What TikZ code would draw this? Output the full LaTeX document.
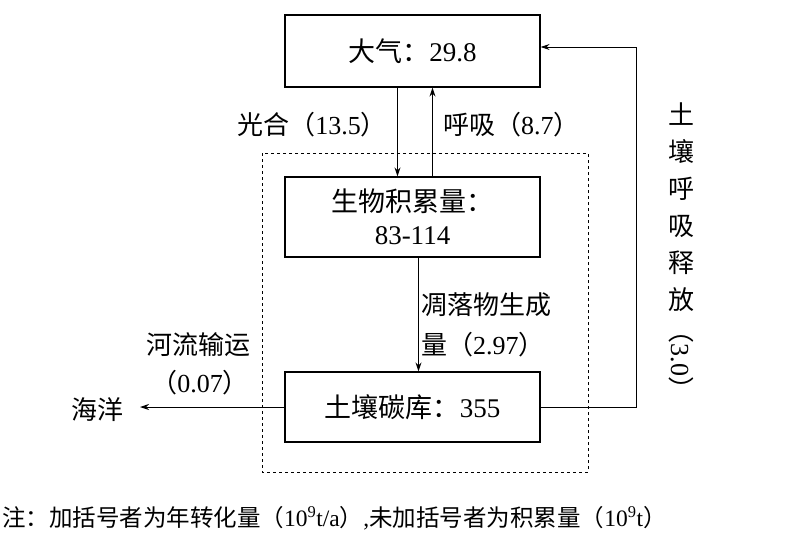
\documentclass[tikz,border=0pt]{standalone}
\usepackage{fontspec}
\setmainfont{Liberation Serif}
\newfontfamily\cjk{Noto Sans CJK SC}
\usetikzlibrary{arrows.meta}
\begin{document}
\begin{tikzpicture}[x=1pt,y=-1pt,
  box/.style={draw,line width=1.2pt,minimum width=255pt,inner sep=0pt,align=center,font=\fontsize{27}{33}\selectfont},
  lbl/.style={font=\fontsize{26}{32}\selectfont,inner sep=0pt,align=center},
  arr/.style={line width=1pt,-{Stealth[length=9pt,width=6pt]}}]
\useasboundingbox (0,0) rectangle (801,539);
\draw[dashed,line width=1pt] (262,153) rectangle (588,472);
\node[box,minimum height=72pt] (air) at (412.5,51) {{\cjk 大气：}29.8};
\node[box,minimum height=80pt] (bio) at (412.5,217) {{\cjk 生物积累量：}\\83-114};
\node[box,minimum height=70pt] (soil) at (412.5,407) {{\cjk 土壤碳库：}355};
\coordinate (ocean) at (140,407);
\node[lbl] (oc) at (97,410) {\cjk 海洋};
\draw[arr] ([xshift=-15pt]air.south) -- ([xshift=-15pt]bio.north);
\draw[arr] ([xshift=20pt]bio.north) -- ([xshift=20pt]air.south);
\draw[arr] ([xshift=6pt]bio.south) -- ([xshift=6pt]soil.north);
\draw[arr] (soil.west) -- (ocean);
\coordinate (c1) at (636,407);
\coordinate (c2) at (636,47);
\draw[arr] (soil.east|-c1) -- (c1) -- (c2) -- (air.east|-c2);
\node[lbl,anchor=east] (l1) at (387,125) {{\cjk 光合（}13.5{\cjk ）}};
\node[lbl,anchor=west] (l2) at (443,125) {{\cjk 呼吸（}8.7{\cjk ）}};
\node[lbl,anchor=west] (l3) at (421,305) {\cjk 凋落物生成};
\node[lbl,anchor=west] (l4) at (421,345) {{\cjk 量（}2.97{\cjk ）}};
\node[lbl] (l5) at (198,345) {\cjk 河流输运};
\node[lbl] (l6) at (200,383) {{\cjk （}0.07{\cjk ）}};
\node[lbl,font=\fontsize{26}{37}\selectfont\cjk] (l7) at (681,207) {土\\壤\\呼\\吸\\释\\放};
\node[lbl,rotate=-90] (l8) at (681,360) {{\cjk （}3.0{\cjk ）}};
\node[lbl,anchor=west,font=\fontsize{23.5}{28}\selectfont] (note) at (2,518) {{\cjk 注：加括号者为年转化量（}10\textsuperscript{9}t/a{\cjk ）},{\cjk 未加括号者为积累量（}10\textsuperscript{9}t{\cjk ）}};
\end{tikzpicture}
\end{document}
